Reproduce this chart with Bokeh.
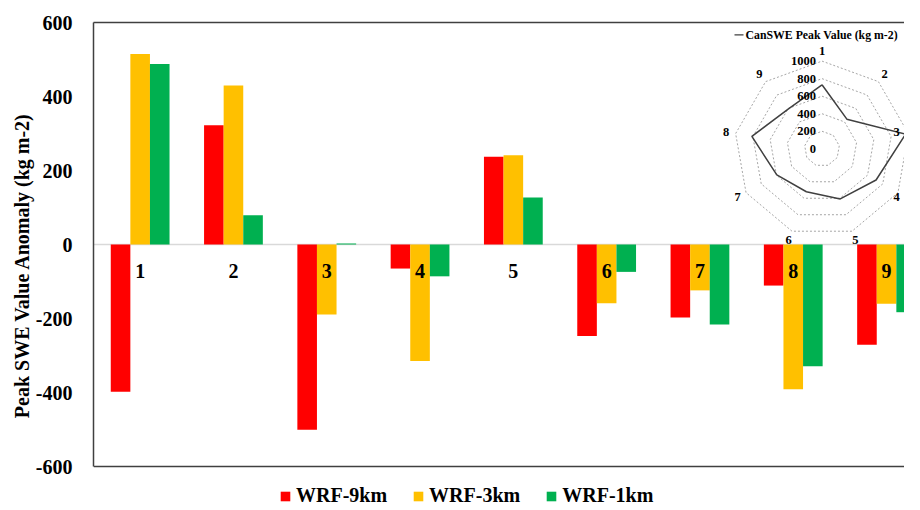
import numpy as np
from bokeh.plotting import figure
from bokeh.models import (Range1d, LinearAxis, FixedTicker, Span, Legend,
                          LegendItem, ColumnDataSource)
from bokeh.transform import dodge
from bokeh.core.properties import value
from bokeh.embed import file_html
from bokeh.resources import INLINE

# ---------------- data ----------------
categories = [1, 2, 3, 4, 5, 6, 7, 8, 9]
category_labels = ["1", "2", "3", "4", "5", "6", "7", "8", "9"]
wrf_9km = [-398, 322, -501, -65, 237, -247, -197, -111, -271]
wrf_3km = [515, 430, -189, -315, 241, -159, -124, -391, -160]
wrf_1km = [488, 79, 3, -86, 127, -74, -216, -329, -183]
y_ticks = [-600, -400, -200, 0, 200, 400, 600]
series_names = ["WRF-9km", "WRF-3km", "WRF-1km"]
series_colors = ["#FF0000", "#FFC000", "#00B050"]

canswe_peak = [730, 441, 968, 712, 608, 521, 595, 812, 595]
radar_levels = [200, 400, 600, 800, 1000]
radar_tick_values = [0, 200, 400, 600, 800, 1000]
radar_tick_labels = ["0", "200", "400", "600", "800", "1000"]
radar_title = "CanSWE Peak Value (kg m-2)"

# ---------------- layout ----------------
FONT = "Liberation Serif"
W, H = 904, 508
FL, FT, FB = 93, 22, 0
FW, FH = W - FL, H - FT - FB
PX_PER_CAT = 93.3
PX_PER_UNIT = 444 / 1200.0
x_start = 0.5
x_end = x_start + FW / PX_PER_CAT
y_end = 600
y_start = y_end - FH / PX_PER_UNIT

p = figure(width=W, height=H, x_range=Range1d(x_start, x_end),
           y_range=Range1d(y_start, y_end), output_backend="svg",
           toolbar_location=None, min_border_left=FL, min_border_right=0,
           min_border_top=FT, min_border_bottom=FB, x_axis_location=None)
p.outline_line_color = None
p.xgrid.visible = False
p.ygrid.visible = False
p.background_fill_color = "white"
p.border_fill_color = "white"

AXIS_COLOR = "#404040"

# left axis
ya = p.yaxis[0]
ya.ticker = FixedTicker(ticks=y_ticks)
ya.major_label_overrides = {v: str(v) for v in y_ticks}
ya.bounds = (-600, 600)
ya.major_tick_line_color = None
ya.minor_tick_line_color = None
ya.major_tick_out = 0
ya.major_tick_in = 0
ya.major_label_standoff = 21
ya.major_label_text_font = FONT
ya.major_label_text_font_style = "bold"
ya.major_label_text_font_size = "20px"
ya.major_label_text_color = "black"
ya.axis_line_color = AXIS_COLOR
ya.axis_line_width = 1.5
ya.axis_label = "Peak SWE Value Anomaly (kg m-2)"
ya.axis_label_text_font = FONT
ya.axis_label_text_font_style = "bold"
ya.axis_label_text_font_size = "20px"
ya.axis_label_text_color = "black"
ya.axis_label_standoff = 0

# top border
top_axis = LinearAxis(ticker=FixedTicker(ticks=[]))
top_axis.major_tick_line_color = None
top_axis.minor_tick_line_color = None
top_axis.major_tick_out = 0
top_axis.major_tick_in = 0
top_axis.major_label_standoff = 0
top_axis.major_label_text_font_size = "0px"
top_axis.axis_line_color = AXIS_COLOR
top_axis.axis_line_width = 1.5
p.add_layout(top_axis, "above")

# bottom border at -600 and zero line
p.add_layout(Span(location=-600, dimension="width", line_color=AXIS_COLOR,
                  line_width=1.5))
p.add_layout(Span(location=0, dimension="width", line_color="#d9d9d9",
                  line_width=1.5, level="underlay"))

# bars
src = ColumnDataSource(dict(cat=categories, r=wrf_9km, y3=wrf_3km, g=wrf_1km))
BW = 0.21
renderers = []
for col, off, color in zip(["r", "y3", "g"], [-BW, 0, BW], series_colors):
    r = p.vbar(x=dodge("cat", off, range=p.x_range), top=col, bottom=0,
               width=BW, fill_color=color, line_color=None, source=src)
    renderers.append(r)

# category labels at the zero crossing
p.text(x=categories, y=[0] * len(categories), text=category_labels,
       y_offset=26, text_align="center", text_baseline="middle",
       text_font=value(FONT), text_font_style="bold",
       text_font_size="20px", text_color="black")

# legend (inside the extended frame, under the -600 border)
legend = Legend(items=[LegendItem(label=n, renderers=[r])
                       for n, r in zip(series_names, renderers)],
                orientation="horizontal", location=(186, 1),
                glyph_width=12, glyph_height=12, label_standoff=5,
                spacing=25, padding=0, margin=0,
                label_text_font=FONT, label_text_font_style="bold",
                label_text_font_size="20px", label_text_color="black",
                border_line_color=None, background_fill_alpha=0)
p.add_layout(legend, "center")

# ---------------- radar inset ----------------
CX, CYT = 728.5, 126.3     # centre, px from frame left / top
S = 0.0877                 # px per unit
p.extra_x_ranges = {"rx": Range1d(-CX / S, (FW - CX) / S)}
p.extra_y_ranges = {"ry": Range1d(-(FH - CYT) / S, CYT / S)}

n = len(categories)
theta = np.pi / 2 - 2 * np.pi * np.arange(n) / n
ring_xs = [list(lv * np.cos(np.append(theta, theta[0]))) for lv in radar_levels]
ring_ys = [list(lv * np.sin(np.append(theta, theta[0]))) for lv in radar_levels]
p.multi_line(xs=ring_xs, ys=ring_ys, line_color="#a6a6a6", line_width=1,
             line_dash="2 2", x_range_name="rx", y_range_name="ry")

vals = np.array(canswe_peak + [canswe_peak[0]], dtype=float)
th = np.append(theta, theta[0])
p.line(x=vals * np.cos(th), y=vals * np.sin(th), line_color="#404040",
       line_width=1.5, x_range_name="rx", y_range_name="ry")

p.text(x=[0] * len(radar_tick_values), y=radar_tick_values,
       text=radar_tick_labels, x_offset=-6, text_align="right",
       text_baseline="middle", text_font=value(FONT), text_font_style="bold",
       text_font_size="12.5px", text_color="black",
       x_range_name="rx", y_range_name="ry")

LR = 1110
lab_x = np.minimum(LR * np.cos(theta), (FW - CX - 8) / S)
lab_y = LR * np.sin(theta)
p.text(x=lab_x, y=lab_y, text=category_labels,
       text_align="center", text_baseline="middle", text_font=value(FONT),
       text_font_style="bold", text_font_size="12.5px", text_color="black",
       x_range_name="rx", y_range_name="ry")

# radar legend (title), kept inside the frame's right edge
ty = 114 / S
p.segment(x0=[-87.5 / S], y0=[ty], x1=[-78.5 / S], y1=[ty],
          line_color="#404040", line_width=1.2,
          x_range_name="rx", y_range_name="ry")
p.text(x=[-76.5 / S], y=[ty], text=[radar_title], text_align="left",
       text_baseline="middle", text_font=value(FONT), text_font_style="bold",
       text_font_size="11.8px", text_color="black",
       x_range_name="rx", y_range_name="ry")

open("out.html", "w").write(file_html(p, INLINE))
